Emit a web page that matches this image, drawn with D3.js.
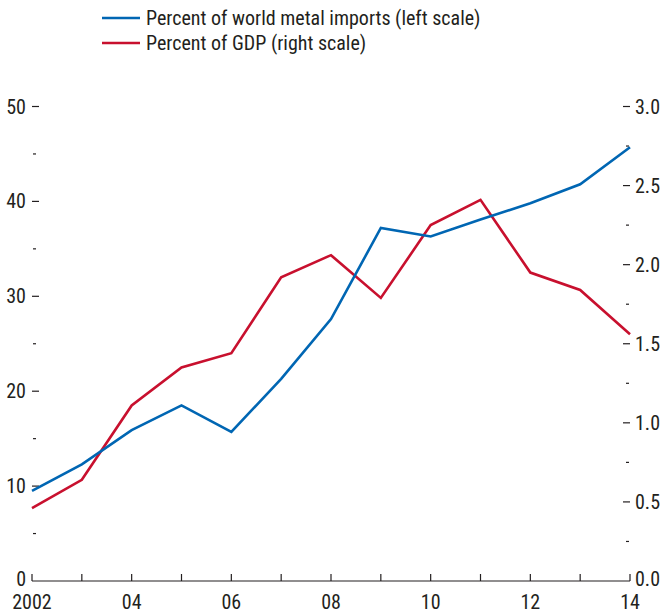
<!DOCTYPE html>
<html>
<head>
<meta charset="utf-8">
<script src="https://cdn.jsdelivr.net/npm/d3@7"></script>
<style>
  html, body { margin: 0; padding: 0; background: #fff; }
  svg text { font-family: "Liberation Sans Narrow", "Arial Narrow", "Roboto Condensed", sans-serif; fill: #231f20; }
</style>
</head>
<body>
<svg id="chart" width="663" height="614"></svg>
<script>
const years = [2002, 2003, 2004, 2005, 2006, 2007, 2008, 2009, 2010, 2011, 2012, 2013, 2014];
const xTickLabels = ["2002", "04", "06", "08", "10", "12", "14"];
const metalImports = [9.5, 12.3, 15.9, 18.5, 15.7, 21.3, 27.6, 37.2, 36.3, 38.1, 39.8, 41.8, 45.7];
const gdpShare = [0.46, 0.64, 1.11, 1.35, 1.44, 1.92, 2.06, 1.79, 2.25, 2.41, 1.95, 1.84, 1.56];
const leftTicks = [0, 10, 20, 30, 40, 50];
const leftMinor = [5, 15, 25, 35, 45];
const rightTicks = [0, 0.5, 1.0, 1.5, 2.0, 2.5, 3.0];
const rightMinor = [0.25, 0.75, 1.25, 1.75, 2.25, 2.75];
const seriesNames = ["Percent of world metal imports (left scale)", "Percent of GDP (right scale)"];
const colors = ["#0066b3", "#c8102e"];

const svg = d3.select("#chart");
const x0 = 32, x1 = 630, yTop = 106.5, yBot = 581;
const x = d3.scaleLinear().domain([2002, 2014]).range([x0, x1]);
const yL = d3.scaleLinear().domain([0, 50]).range([yBot, yTop]);
const yR = d3.scaleLinear().domain([0, 3]).range([yBot, yTop]);
const fs = 20;

// Left axis
const gL = svg.append("g");
gL.selectAll("line.maj").data(leftTicks.filter(d => d > 0)).join("line")
  .attr("x1", x0).attr("x2", x0 + 7).attr("y1", d => yL(d)).attr("y2", d => yL(d))
  .attr("stroke", "#231f20").attr("stroke-width", 1.2);
gL.selectAll("line.min").data(leftMinor).join("line")
  .attr("x1", x0 + 1).attr("x2", x0 + 4).attr("y1", d => yL(d)).attr("y2", d => yL(d))
  .attr("stroke", "#231f20").attr("stroke-width", 1.2);
gL.selectAll("text").data(leftTicks).join("text")
  .attr("x", 26).attr("y", d => d === 0 ? yL(d) - 2 : yL(d)).attr("dy", "0.35em").attr("text-anchor", "end")
  .attr("font-size", fs).text(d => d);

// Right axis
const gR = svg.append("g");
gR.selectAll("line.maj").data(rightTicks.filter(d => d > 0)).join("line")
  .attr("x1", x1 - 7).attr("x2", x1).attr("y1", d => yR(d)).attr("y2", d => yR(d))
  .attr("stroke", "#231f20").attr("stroke-width", 1.2);
gR.selectAll("line.min").data(rightMinor).join("line")
  .attr("x1", x1 - 4).attr("x2", x1 - 1).attr("y1", d => yR(d)).attr("y2", d => yR(d))
  .attr("stroke", "#231f20").attr("stroke-width", 1.2);
gR.selectAll("text").data(rightTicks).join("text")
  .attr("x", 635).attr("y", d => d === 0 ? yR(d) - 2 : yR(d)).attr("dy", "0.35em").attr("text-anchor", "start")
  .attr("font-size", fs).text(d => d3.format(".1f")(d));

// Bottom axis
const gB = svg.append("g");
gB.append("line").attr("x1", x0).attr("x2", x1).attr("y1", yBot).attr("y2", yBot)
  .attr("stroke", "#231f20").attr("stroke-width", 1.2);
gB.selectAll("line.t").data(years).join("line")
  .attr("x1", d => x(d)).attr("x2", d => x(d)).attr("y1", yBot).attr("y2", yBot - 7)
  .attr("stroke", "#231f20").attr("stroke-width", 1.2);
gB.selectAll("text").data(years.filter((d, i) => i % 2 === 0)).join("text")
  .attr("x", d => x(d)).attr("y", 609).attr("text-anchor", "middle")
  .attr("font-size", fs).text((d, i) => xTickLabels[i]);

// Lines
const lineL = d3.line().x((d, i) => x(years[i])).y(d => yL(d));
const lineR = d3.line().x((d, i) => x(years[i])).y(d => yR(d));
svg.append("path").datum(gdpShare).attr("d", lineR).attr("fill", "none")
  .attr("stroke", colors[1]).attr("stroke-width", 2.6).attr("stroke-linejoin", "miter");
svg.append("path").datum(metalImports).attr("d", lineL).attr("fill", "none")
  .attr("stroke", colors[0]).attr("stroke-width", 2.6).attr("stroke-linejoin", "miter");

// Legend
const lg = svg.append("g");
seriesNames.forEach((name, i) => {
  const yy = 18 + i * 25;
  lg.append("line").attr("x1", 102).attr("x2", 140).attr("y1", yy).attr("y2", yy)
    .attr("stroke", colors[i]).attr("stroke-width", 2.6);
  lg.append("text").attr("x", 146).attr("y", yy).attr("dy", "0.35em")
    .attr("font-size", fs).text(name);
});
</script>
</body>
</html>
